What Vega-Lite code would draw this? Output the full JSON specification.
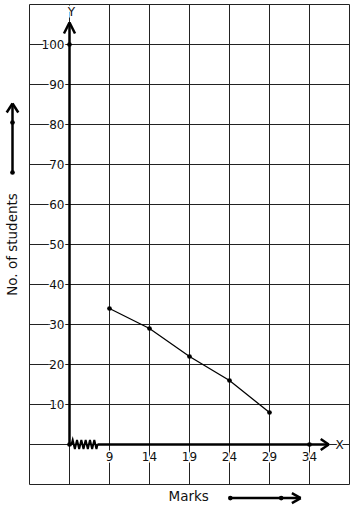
{
  "$schema": "https://vega.github.io/schema/vega-lite/v6.json",
  "width": 320,
  "height": 480,
  "autosize": {"type": "none"},
  "padding": {"left": 29.5, "top": 4.5, "right": 4.5, "bottom": 25.5},
  "background": "white",
  "config": {"view": {"stroke": null}, "text": {"font": "DejaVu Sans"}},
  "datasets": {
    "grid": [
      {"x1": -1, "y1": -10, "x2": -1, "y2": 110},
      {"x1": 4, "y1": -10, "x2": 4, "y2": 110},
      {"x1": 9, "y1": -10, "x2": 9, "y2": 110},
      {"x1": 14, "y1": -10, "x2": 14, "y2": 110},
      {"x1": 19, "y1": -10, "x2": 19, "y2": 110},
      {"x1": 24, "y1": -10, "x2": 24, "y2": 110},
      {"x1": 29, "y1": -10, "x2": 29, "y2": 110},
      {"x1": 34, "y1": -10, "x2": 34, "y2": 110},
      {"x1": 39, "y1": -10, "x2": 39, "y2": 110},
      {"x1": -1, "y1": -10, "x2": 39, "y2": -10},
      {"x1": -1, "y1": 0, "x2": 39, "y2": 0},
      {"x1": -1, "y1": 10, "x2": 39, "y2": 10},
      {"x1": -1, "y1": 20, "x2": 39, "y2": 20},
      {"x1": -1, "y1": 30, "x2": 39, "y2": 30},
      {"x1": -1, "y1": 40, "x2": 39, "y2": 40},
      {"x1": -1, "y1": 50, "x2": 39, "y2": 50},
      {"x1": -1, "y1": 60, "x2": 39, "y2": 60},
      {"x1": -1, "y1": 70, "x2": 39, "y2": 70},
      {"x1": -1, "y1": 80, "x2": 39, "y2": 80},
      {"x1": -1, "y1": 90, "x2": 39, "y2": 90},
      {"x1": -1, "y1": 100, "x2": 39, "y2": 100},
      {"x1": -1, "y1": 110, "x2": 39, "y2": 110}
    ],
    "thick": [
      {"x1": 4, "y1": 0, "x2": 4, "y2": 105.5},
      {"x1": 3.31, "y1": 102.75, "x2": 4, "y2": 105.5},
      {"x1": 4, "y1": 105.5, "x2": 4.69, "y2": 102.75},
      {"x1": 4, "y1": 0, "x2": 4.25, "y2": 0},
      {"x1": 7.5, "y1": 0, "x2": 36.4, "y2": 0},
      {"x1": 35.4, "y1": 1.4, "x2": 36.4, "y2": 0},
      {"x1": 36.4, "y1": 0, "x2": 35.4, "y2": -1.4},
      {"x1": -3.125, "y1": 68, "x2": -3.125, "y2": 85.25},
      {"x1": -3.85, "y1": 83, "x2": -3.125, "y2": 85.25},
      {"x1": -3.125, "y1": 85.25, "x2": -2.4, "y2": 83},
      {"x1": 24.1, "y1": -13.4, "x2": 32.9, "y2": -13.4},
      {"x1": 31.8, "y1": -12.15, "x2": 32.9, "y2": -13.4},
      {"x1": 32.9, "y1": -13.4, "x2": 31.8, "y2": -14.65}
    ],
    "zigzag": [
      {"i": 0, "x": 4.25, "y": 0},
      {"i": 1, "x": 4.4, "y": 1.1},
      {"i": 2, "x": 4.67, "y": -1.1},
      {"i": 3, "x": 4.94, "y": 1.1},
      {"i": 4, "x": 5.21, "y": -1.1},
      {"i": 5, "x": 5.48, "y": 1.1},
      {"i": 6, "x": 5.75, "y": -1.1},
      {"i": 7, "x": 6.02, "y": 1.1},
      {"i": 8, "x": 6.29, "y": -1.1},
      {"i": 9, "x": 6.56, "y": 1.1},
      {"i": 10, "x": 6.83, "y": -1.1},
      {"i": 11, "x": 7.1, "y": 1.1},
      {"i": 12, "x": 7.37, "y": -1.1},
      {"i": 13, "x": 7.5, "y": 0}
    ],
    "series": [
      {"x": 9, "y": 34},
      {"x": 14, "y": 29},
      {"x": 19, "y": 22},
      {"x": 24, "y": 16},
      {"x": 29, "y": 8}
    ],
    "dots": [
      {"x": 4, "y": 0},
      {"x": 4, "y": 100},
      {"x": 34, "y": 0},
      {"x": -3.125, "y": 68},
      {"x": -3.125, "y": 80.5},
      {"x": 24.1, "y": -13.4},
      {"x": 30.46, "y": -13.4}
    ],
    "ylabels": [
      {"x": 4, "y": 10, "t": "10"},
      {"x": 4, "y": 20, "t": "20"},
      {"x": 4, "y": 30, "t": "30"},
      {"x": 4, "y": 40, "t": "40"},
      {"x": 4, "y": 50, "t": "50"},
      {"x": 4, "y": 60, "t": "60"},
      {"x": 4, "y": 70, "t": "70"},
      {"x": 4, "y": 80, "t": "80"},
      {"x": 4, "y": 90, "t": "90"},
      {"x": 4, "y": 100, "t": "100"}
    ],
    "xlabels": [
      {"x": 9, "y": 0, "t": "9"},
      {"x": 14, "y": 0, "t": "14"},
      {"x": 19, "y": 0, "t": "19"},
      {"x": 24, "y": 0, "t": "24"},
      {"x": 29, "y": 0, "t": "29"},
      {"x": 34, "y": 0, "t": "34"}
    ],
    "axisnames": [
      {"x": 37.75, "y": 0, "t": "X"},
      {"x": 4.25, "y": 108.25, "t": "Y"}
    ]
  },
  "layer": [
    {
      "data": {"name": "grid"},
      "mark": {"type": "rule", "color": "#222", "strokeWidth": 1},
      "encoding": {
        "x": {"field": "x1", "type": "quantitative", "scale": {"domain": [-1, 39], "nice": false, "zero": false}, "axis": null},
        "y": {"field": "y1", "type": "quantitative", "scale": {"domain": [-10, 110], "nice": false, "zero": false}, "axis": null},
        "x2": {"field": "x2"},
        "y2": {"field": "y2"}
      }
    },
    {
      "data": {"name": "ylabels"},
      "mark": {"type": "text", "align": "right", "baseline": "middle", "dx": -5, "fontSize": 12, "fill": "white", "stroke": "white", "strokeWidth": 3},
      "encoding": {
        "x": {"field": "x", "type": "quantitative"},
        "y": {"field": "y", "type": "quantitative"},
        "text": {"field": "t"}
      }
    },
    {
      "data": {"name": "xlabels"},
      "mark": {"type": "text", "align": "center", "baseline": "middle", "dy": 12, "fontSize": 12, "fill": "white", "stroke": "white", "strokeWidth": 3},
      "encoding": {
        "x": {"field": "x", "type": "quantitative"},
        "y": {"field": "y", "type": "quantitative"},
        "text": {"field": "t"}
      }
    },
    {
      "data": {"name": "axisnames"},
      "mark": {"type": "text", "align": "center", "baseline": "middle", "fontSize": 12, "fill": "white", "stroke": "white", "strokeWidth": 3},
      "encoding": {
        "x": {"field": "x", "type": "quantitative"},
        "y": {"field": "y", "type": "quantitative"},
        "text": {"field": "t"}
      }
    },
    {
      "data": {"name": "ylabels"},
      "mark": {"type": "text", "align": "right", "baseline": "middle", "dx": -5, "fontSize": 12, "color": "#111"},
      "encoding": {
        "x": {"field": "x", "type": "quantitative"},
        "y": {"field": "y", "type": "quantitative"},
        "text": {"field": "t"}
      }
    },
    {
      "data": {"name": "xlabels"},
      "mark": {"type": "text", "align": "center", "baseline": "middle", "dy": 12, "fontSize": 12, "color": "#111"},
      "encoding": {
        "x": {"field": "x", "type": "quantitative"},
        "y": {"field": "y", "type": "quantitative"},
        "text": {"field": "t"}
      }
    },
    {
      "data": {"name": "axisnames"},
      "mark": {"type": "text", "align": "center", "baseline": "middle", "fontSize": 12, "color": "#111"},
      "encoding": {
        "x": {"field": "x", "type": "quantitative"},
        "y": {"field": "y", "type": "quantitative"},
        "text": {"field": "t"}
      }
    },
    {
      "data": {"name": "thick"},
      "mark": {"type": "rule", "color": "black", "strokeWidth": 2.5},
      "encoding": {
        "x": {"field": "x1", "type": "quantitative"},
        "y": {"field": "y1", "type": "quantitative"},
        "x2": {"field": "x2"},
        "y2": {"field": "y2"}
      }
    },
    {
      "data": {"name": "zigzag"},
      "mark": {"type": "line", "color": "black", "strokeWidth": 2},
      "encoding": {
        "x": {"field": "x", "type": "quantitative"},
        "y": {"field": "y", "type": "quantitative"},
        "order": {"field": "i"}
      }
    },
    {
      "data": {"name": "series"},
      "mark": {"type": "line", "color": "black", "strokeWidth": 1.3},
      "encoding": {
        "x": {"field": "x", "type": "quantitative"},
        "y": {"field": "y", "type": "quantitative"}
      }
    },
    {
      "data": {"name": "series"},
      "mark": {"type": "circle", "color": "black", "size": 22, "opacity": 1},
      "encoding": {
        "x": {"field": "x", "type": "quantitative"},
        "y": {"field": "y", "type": "quantitative"}
      }
    },
    {
      "data": {"name": "dots"},
      "mark": {"type": "circle", "color": "black", "size": 22, "opacity": 1},
      "encoding": {
        "x": {"field": "x", "type": "quantitative"},
        "y": {"field": "y", "type": "quantitative"}
      }
    },
    {
      "data": {"values": [{"x": -3.125, "y": 50, "t": "No. of students"}]},
      "mark": {"type": "text", "angle": 270, "align": "center", "baseline": "middle", "fontSize": 13.5, "color": "#111"},
      "encoding": {
        "x": {"field": "x", "type": "quantitative"},
        "y": {"field": "y", "type": "quantitative"},
        "text": {"field": "t"}
      }
    },
    {
      "data": {"values": [{"x": 18.9, "y": -13.1, "t": "Marks"}]},
      "mark": {"type": "text", "align": "center", "baseline": "middle", "fontSize": 13.5, "color": "#111"},
      "encoding": {
        "x": {"field": "x", "type": "quantitative"},
        "y": {"field": "y", "type": "quantitative"},
        "text": {"field": "t"}
      }
    }
  ]
}
